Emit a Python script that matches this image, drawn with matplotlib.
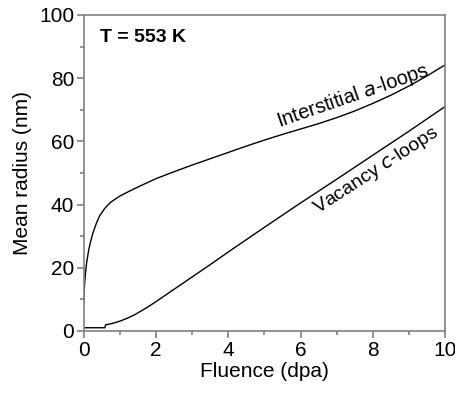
import matplotlib
matplotlib.use("Agg")
import matplotlib.pyplot as plt
from matplotlib.ticker import MultipleLocator

plt.rcParams["font.family"] = ["Liberation Sans", "DejaVu Sans"]

# interstitial a-loops, mean radius (nm) vs fluence (dpa)
inter_x = [0, 0.005, 0.01, 0.02, 0.03, 0.045, 0.06, 0.08, 0.11, 0.14, 0.18,
           0.25, 0.35, 0.44, 0.58, 0.72, 0.85, 1.0, 1.27, 1.6, 2.0, 2.5, 3.0,
           3.5, 4.0, 4.5, 5.0, 5.5, 6.0, 6.5, 7.0, 7.5, 8.0, 8.5, 9.0, 9.5,
           10.0]
inter_y = [9, 11.5, 13, 15, 16.5, 18.5, 20, 22, 24, 26, 28, 31, 34.2, 36.5,
           38.8, 40.5, 41.6, 42.7, 44.3, 46.1, 48.2, 50.4, 52.5, 54.5, 56.5,
           58.5, 60.4, 62.2, 63.9, 65.6, 67.5, 69.6, 72, 74.6, 77.5, 80.7,
           84.2]

# vacancy c-loops
vac_x = [0, 0.58, 0.6, 0.8, 1.0, 1.2, 1.4, 1.6, 1.8, 2.0, 2.5, 3.0, 3.5,
         4.0, 5.0, 6.0, 7.0, 8.0, 9.0, 10.0]
vac_y = [1, 1, 1.9, 2.4, 3.1, 4.0, 5.1, 6.4, 7.8, 9.3, 13.2, 17.1, 21, 25,
         32.8, 40.5, 48, 55.6, 63.2, 71]

fig = plt.figure(figsize=(4.56, 3.93), dpi=100)
ax = fig.add_axes([0.184, 0.158, 0.792, 0.804])

ax.plot(inter_x, inter_y, color="black", linewidth=1.0)
ax.plot(vac_x, vac_y, color="black", linewidth=1.0)

ax.set_xlim(0, 10)
ax.set_ylim(0, 100)
ax.xaxis.set_major_locator(MultipleLocator(2))
ax.xaxis.set_minor_locator(MultipleLocator(1))
ax.yaxis.set_major_locator(MultipleLocator(20))
ax.yaxis.set_minor_locator(MultipleLocator(10))

spine_col = "#808080"
for side in ["left", "bottom", "top", "right"]:
    ax.spines[side].set_color(spine_col)
    ax.spines[side].set_linewidth(1.2)
ax.tick_params(which="both", direction="out", color=spine_col, width=1.2,
               top=False, right=False, labelsize=15)
ax.tick_params(which="major", length=5, pad=2)
ax.tick_params(which="minor", length=3)

ax.set_xlabel("Fluence (dpa)", fontsize=15, labelpad=2)
ax.set_ylabel("Mean radius (nm)", fontsize=15, labelpad=5)

ax.text(0.45, 93, "T = 553 K", fontsize=14, fontweight="bold",
        ha="left", va="center")
ax.text(7.45, 74.2, "Interstitial $\\mathit{a}$-loops", fontsize=14.5,
        rotation=19, ha="center", va="center", rotation_mode="anchor")
ax.text(8.1, 50.6, "Vacancy $\\mathit{c}$-loops", fontsize=14,
        rotation=33, ha="center", va="center", rotation_mode="anchor")

fig.savefig("out.png", dpi=100)
